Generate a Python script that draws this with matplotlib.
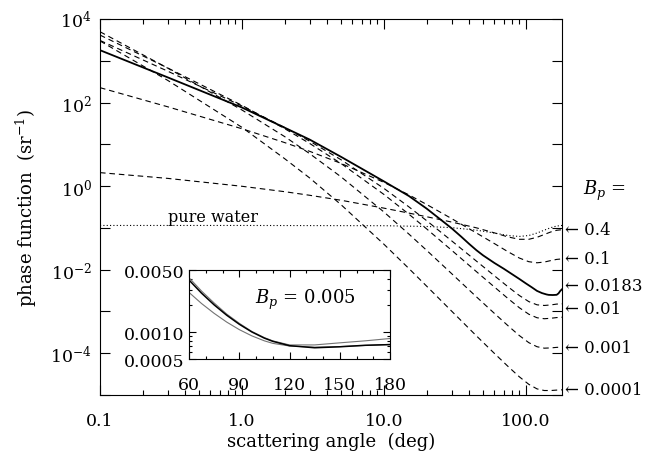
import matplotlib
matplotlib.use("Agg")
import math
import matplotlib.pyplot as plt
import matplotlib.transforms as mtransforms
from matplotlib.ticker import FixedLocator, FuncFormatter, LogLocator, NullFormatter, MultipleLocator

plt.rcParams['font.family'] = ['DejaVu Serif', 'DejaVu Sans']
plt.rcParams['mathtext.fontset'] = 'dejavuserif'

# scattering angles (deg) for the dashed curves
ang = [0.1, 0.3, 1, 2, 3, 5, 10, 15, 20, 30, 45, 60, 75, 90, 105, 120, 135, 150, 165, 180]

bp_04 = [2.10, 1.53, 0.99, 0.735, 0.603, 0.458, 0.297, 0.226, 0.185, 0.138, 0.100, 0.0761,
         0.0607, 0.0533, 0.0533, 0.0595, 0.0695, 0.0799, 0.0876, 0.0905]
bp_01 = [227, 79.1, 23.6, 11.0, 6.80, 3.49, 1.23, 0.617, 0.364, 0.167, 0.0751, 0.0422,
         0.0268, 0.0190, 0.0155, 0.0146, 0.0152, 0.0165, 0.0176, 0.0181]
bp_001 = [3064, 563, 82.6, 25.2, 11.9, 4.26, 0.883, 0.319, 0.149, 0.0491, 0.0159, 0.00717,
          0.00388, 0.00241, 0.00172, 0.00144, 0.00139, 0.00143, 0.00150, 0.00152]
bp_0005 = [4118, 672, 85.6, 23.7, 10.5, 3.46, 0.633, 0.213, 0.0948, 0.0292, 0.00890, 0.00386,
           0.00203, 0.00123, 0.000858, 0.000706, 0.000669, 0.000686, 0.000713, 0.000726]
bp_0001 = [4947, 666, 66.3, 15.3, 5.98, 1.658, 0.2407, 0.0712, 0.0291, 0.00806, 0.00222,
           0.000902, 0.000454, 0.000265, 0.000179, 0.000143, 0.000132, 0.000134, 0.000138, 0.000140]
bp_00001 = [2982, 339, 25.5, 4.53, 1.567, 0.357, 0.0407, 0.01067, 0.00404, 0.00102, 0.000258,
            0.0000995, 0.0000482, 0.0000273, 0.0000180, 0.0000140, 0.0000128, 0.0000128,
            0.0000131, 0.0000133]

# Petzold average particle phase function (solid)
ang_petz = [0.1, 0.3, 1, 2, 3, 5, 10, 15, 20, 25, 30, 35, 40, 45, 50, 60, 70, 80, 90, 100,
            110, 120, 130, 140, 145, 155, 165, 170, 175, 180]
petz = [1790, 400, 76, 25, 13, 5.0, 1.3, 0.58, 0.29, 0.16, 0.098, 0.062, 0.041, 0.029, 0.022,
        0.0145, 0.0105, 0.0078, 0.0060, 0.0047, 0.0038, 0.0031, 0.00275, 0.00255, 0.00249,
        0.00247, 0.0025, 0.0027, 0.0031, 0.0034]

# pure water
ang_w = [0.1, 1, 10, 20, 30, 45, 60, 75, 90, 105, 120, 135, 150, 165, 180]
water = [0.1142, 0.1142, 0.1127, 0.1081, 0.1012, 0.0882, 0.0753, 0.0657, 0.0623, 0.0657,
         0.0753, 0.0882, 0.1012, 0.1107, 0.1142]

# inset, Bp = 0.005
ang_in = [60, 67.5, 75, 82.5, 90, 97.5, 105, 110, 120, 135, 150, 165, 180]
in_ff = [0.00386, 0.002745, 0.00203, 0.001553, 0.00123, 0.001007, 0.000858, 0.00079,
         0.000706, 0.000669, 0.000686, 0.000713, 0.000726]
in_a = [0.0041, 0.0029, 0.00213, 0.00160, 0.00126, 0.00102, 0.00087, 0.00080, 0.00072,
        0.00072, 0.00076, 0.00080, 0.00085]
in_b = [0.0028, 0.0021, 0.00163, 0.00130, 0.00107, 0.00091, 0.00080, 0.00075, 0.00070,
        0.00068, 0.00069, 0.00071, 0.00073]

fig = plt.figure(figsize=(6.52, 4.52), dpi=100)
ax = fig.add_axes([0.1534, 0.1239, 0.7086, 0.8319])
ax.set_xscale('log')
ax.set_yscale('log')

dash = (0, (5, 3.5))
for vals in [bp_04, bp_01, bp_001, bp_0005, bp_0001, bp_00001]:
    ax.plot(ang, vals, color='k', lw=0.8, linestyle=dash)
ax.plot(ang_petz, petz, color='k', lw=1.3)
ax.plot(ang_w, water, color='k', lw=0.8, linestyle=(0, (1, 2)))

ax.set_xlim(0.1, 180)
ax.set_ylim(1e-5, 1e4)

xlabs = {0.1: '0.1', 1: '1.0', 10: '10.0', 100: '100.0'}
ax.xaxis.set_major_locator(FixedLocator(list(xlabs.keys())))
ax.xaxis.set_major_formatter(FuncFormatter(lambda v, p: xlabs.get(round(v, 3), '')))
ax.xaxis.set_minor_locator(LogLocator(base=10, subs=range(2, 10), numticks=20))
ax.xaxis.set_minor_formatter(NullFormatter())

ax.yaxis.set_major_locator(FixedLocator([10.0 ** k for k in range(-5, 5)]))
def ylab(v, p):
    k = int(round(math.log10(v)))
    return r'$10^{%d}$' % k if k % 2 == 0 else ''
ax.yaxis.set_major_formatter(FuncFormatter(ylab))
ax.yaxis.set_minor_locator(FixedLocator([]))

ax.tick_params(which='both', direction='in', top=True, right=True, width=0.8, labelsize=12.5)
ax.tick_params(which='major', length=7)
ax.tick_params(which='minor', length=3.5)
ax.tick_params(axis='x', pad=12)
ax.tick_params(axis='y', pad=6)
for s in ax.spines.values():
    s.set_linewidth(0.8)

ax.set_xlabel('scattering angle  (deg)', fontsize=13, labelpad=2)
ax.set_ylabel(r'phase function  (sr$^{-1}$)', fontsize=13, labelpad=8)

ax.text(0.302, 0.15, 'pure water', fontsize=11.5, va='baseline')

# right-hand labels, pointing at the 180 deg end of each curve
trans = mtransforms.blended_transform_factory(ax.transAxes, ax.transData)
ends = [('0.4', bp_04[-1], 0), ('0.1', bp_01[-1], 0), ('0.0183', petz[-1], 2.5),
        ('0.01', bp_001[-1], -3), ('0.001', bp_0001[-1], 0), ('0.0001', bp_00001[-1], 0)]
for lab, val, dy in ends:
    ax.annotate('\u2190 ' + lab, xy=(1.006, val), xycoords=trans,
                xytext=(0, dy), textcoords='offset points',
                va='center', ha='left', fontsize=12, annotation_clip=False)
ax.text(1.045, 0.8, r'$B_p$ =', transform=trans, va='center', ha='left', fontsize=13)

# inset
axi = fig.add_axes([0.2899, 0.2035, 0.3083, 0.1969])
axi.set_yscale('log')
axi.plot(ang_in, in_a, color='0.45', lw=0.8)
axi.plot(ang_in, in_b, color='0.45', lw=0.8)
axi.plot(ang_in, in_ff, color='k', lw=1.1)
axi.set_xlim(60, 180)
axi.set_ylim(0.0005, 0.005)
axi.set_xticks([60, 90, 120, 150, 180])
axi.xaxis.set_minor_locator(MultipleLocator(10))
axi.set_yticks([0.0005, 0.001, 0.005])
axi.set_yticklabels(['0.0005', '0.0010', '0.0050'])
axi.yaxis.set_minor_locator(LogLocator(base=10, subs=range(2, 10), numticks=10))
axi.yaxis.set_minor_formatter(NullFormatter())
axi.tick_params(which='both', direction='in', top=True, right=True, width=0.8, labelsize=12.5)
axi.tick_params(which='major', length=5)
axi.tick_params(which='minor', length=2.5)
axi.tick_params(axis='x', pad=12)
axi.tick_params(axis='y', pad=3)
for s in axi.spines.values():
    s.set_linewidth(0.8)
axi.text(0.33, 0.67, r'$B_p$ = 0.005', transform=axi.transAxes, va='center', fontsize=13)

fig.savefig('out.png', dpi=100)
